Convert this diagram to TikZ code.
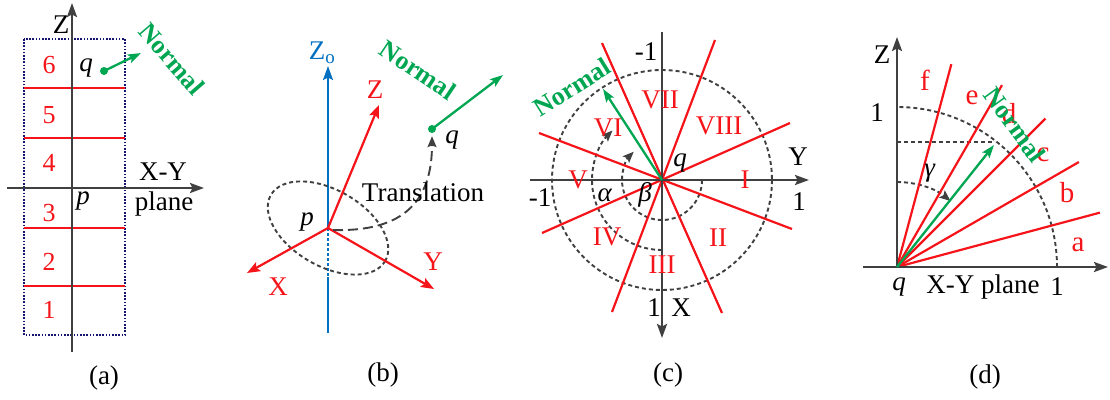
\documentclass[tikz,border=0pt]{standalone}
\usepackage{fontspec}
\setmainfont{Liberation Serif}
\usetikzlibrary{arrows.meta}
\definecolor{myred}{RGB}{245,20,25}
\definecolor{mygreen}{RGB}{0,166,81}
\definecolor{myblue}{RGB}{0,112,192}
\definecolor{axisgray}{RGB}{64,64,64}
\definecolor{boxnavy}{RGB}{20,20,110}
\begin{document}
\begin{tikzpicture}[x=1pt,y=-1pt,
  tip/.style={-{Stealth[length=14pt,width=10pt,inset=2.5pt]}},
  axis/.style={draw=axisgray, line width=2.4pt, tip},
  redseg/.style={draw=myred, line width=2.2pt},
  redarr/.style={draw=myred, line width=2.2pt, -{Stealth[length=13pt,width=10pt,inset=2.5pt]}},
  grnarr/.style={draw=mygreen, line width=2.3pt, -{Stealth[length=13pt,width=9pt,inset=2.5pt]}},
  bluearr/.style={draw=myblue, line width=2.2pt},
  dashc/.style={draw=axisgray, line width=1.9pt, dash pattern=on 4pt off 3pt},
  dasharr/.style={dashc, -{Stealth[length=11pt,width=9pt,inset=2pt]}},
  txt/.style={inner sep=0pt, font=\fontsize{27}{29}\selectfont},
  rtxt/.style={inner sep=0pt, text=myred, font=\fontsize{26}{28}\selectfont},
  ntxt/.style={inner sep=0pt, text=mygreen, font=\fontsize{26}{28}\selectfont\bfseries},
  dotg/.style={circle, fill=mygreen, inner sep=0pt, minimum size=8pt},
]
\useasboundingbox (0,0) rectangle (1110,399);

% ---------------- (a) ----------------
\coordinate (aZb) at (72,352); \coordinate (aZt) at (72,3);
\coordinate (aXl) at (7,188);  \coordinate (aXr) at (204,188);
\draw[boxnavy, line width=1.4pt, dash pattern=on 1.6pt off 1.6pt] (24,39) rectangle (125,335);
\foreach \y in {88,138,228,286} \draw[redseg] (24,\y) -- (125,\y);
\draw[axis] (aZb) -- (aZt);
\draw[axis] (aXl) -- (aXr);
\node[txt] (aZ) at (61,25) {Z};
\node[txt] (aXY) at (163,172) {X-Y};
\node[txt] (aplane) at (164,204) {plane};
\foreach \n/\y in {6/65,5/115,4/163,3/213,2/262,1/310} \node[rtxt] (an\n) at (49,\y) {\n};
\node[txt] (aq) at (86,68) {\textit{q}};
\node[txt] (ap) at (83,201) {\textit{p}};
\node[dotg] (aqd) at (104,71) {};
\coordinate (aN) at (141,53);
\draw[grnarr] (aqd.center) -- (aN);
\node[ntxt, rotate=-49] (aNormal) at (172,59) {Normal};
\node[txt] (acap) at (104,378) {(a)};

% ---------------- (b) ----------------
\coordinate (bp) at (328,228);
\coordinate (bZot) at (328,66); \coordinate (bZom) at (328,277); \coordinate (bZob) at (328,333);
\draw[bluearr, tip] (bp) -- (bZot);
\draw[bluearr] (bZom) -- (bZob);
\draw[bluearr, dash pattern=on 3pt off 2pt] (bp) -- (bZom);
\draw[dashc, rotate around={-30:(bp)}] (bp) ellipse[x radius=66, y radius=38];
\coordinate (bZe) at (379,105); \coordinate (bXe) at (247,273); \coordinate (bYe) at (434,289);
\draw[redarr] (bp) -- (bZe);
\draw[redarr] (bp) -- (bXe);
\draw[redarr] (bp) -- (bYe);
\node[rtxt, font=\fontsize{27}{29}\selectfont] (bZ) at (375,90) {Z};
\node[rtxt, font=\fontsize{27}{29}\selectfont] (bX) at (278,287) {X};
\node[rtxt, font=\fontsize{27}{29}\selectfont] (bY) at (433,262) {Y};
\node[txt, text=myblue] (bZo) at (322,53) {Z\textsubscript{o}};
\node[txt] (bplbl) at (307,222) {\textit{p}};
\node[dotg] (bq) at (432,129) {};
\node[txt] (bqlbl) at (452,140) {\textit{q}};
\draw[dasharr, dash pattern=on 10pt off 5pt, shorten >=3pt] (bp) ++(5,2) .. controls (405,232) and (432,200) .. (bq.south);
\node[txt] (btrans) at (423,192) {Translation};
\coordinate (bN) at (503,75);
\draw[grnarr] (bq.center) -- (bN);
\node[ntxt, rotate=-34] (bNormal) at (418,70) {Normal};
\node[txt] (bcap) at (383,375) {(b)};

% ---------------- (c) ----------------
\coordinate (qc) at (662,180);
\draw[dashc] (qc) circle[radius=110];
\draw[dasharr] (qc) ++(90:70) arc[start angle=90, end angle=225, radius=70];
\draw[dasharr] (qc) ++(0:40) arc[start angle=0, end angle=225, radius=40];
\draw[redseg] (602,43) -- (722,313);
\draw[redseg] (715,40) -- (612,312);
\draw[redseg] (790,123) -- (542,233);
\draw[redseg] (539,133) -- (792,229);
\coordinate (cXt) at (662,32); \coordinate (cXb) at (662,338);
\coordinate (cYl) at (530,180); \coordinate (cYr) at (809,180);
\draw[axis] (cXt) -- (cXb);
\draw[axis] (cYl) -- (cYr);
\coordinate (cN) at (603,89);
\draw[grnarr] (qc) -- (cN);
\node[ntxt, rotate=32] (cNormal) at (572,87) {Normal};
\foreach \t/\x/\y/\nm in {VII/660/100/c7, VIII/719/126/c8, VI/608/128/c6, V/578/180/c5, I/745/180/c1, IV/607/237/c4, II/718/238/c2, III/662/265/c3}
  \node[rtxt, font=\fontsize{27}{29}\selectfont] (\nm) at (\x,\y) {\t};
\node[txt] (cm1t) at (646,52) {-1};
\node[txt] (cm1l) at (540,198) {-1};
\node[txt] (c1r) at (799,202) {1};
\node[txt] (c1b) at (654,308) {1};
\node[txt] (cX) at (681,308) {X};
\node[txt] (cY) at (798,157) {Y};
\node[txt] (cq) at (680,163) {\textit{q}};
\node[txt] (calpha) at (605,195) {\textit{α}};
\node[txt] (cbeta) at (645,195) {\textit{β}};
\node[txt] (ccap) at (668,375) {(c)};

% ---------------- (d) ----------------
\coordinate (qd) at (897,267);
\coordinate (dZt) at (897,37); \coordinate (dXl) at (863,267); \coordinate (dXr) at (1108,267);
\draw[dashc] (qd) ++(0:160) arc[start angle=0, end angle=-90, radius=160];
\draw[dashc] (897,142) -- (995,142);
\draw[dasharr] (qd) ++(-90:85) arc[start angle=-90, end angle=-51, radius=85];
\foreach \a in {15,30,45,60,75} \draw[redseg] (qd) -- ++(-\a:210);
\draw[axis] (qd) -- (dZt);
\draw[axis] (dXl) -- (dXr);
\coordinate (dN) at (994,145);
\draw[grnarr] (qd) -- (dN);
\foreach \t/\x/\y in {f/925/80, e/972/98, d/1009/114, c/1043/155, b/1067/193, a/1078/245}
  \node[rtxt, font=\fontsize{29}{31}\selectfont] (d\t) at (\x,\y) {\t};
\node[ntxt, rotate=-54] (dNormal) at (1015,125) {Normal};
\node[txt] (dZ) at (882,55) {Z};
\node[txt] (d1l) at (877,113) {1};
\node[txt] (dq) at (899,287) {\textit{q}};
\node[txt] (dXY) at (983,287) {X-Y plane};
\node[txt] (d1r) at (1057,287) {1};
\node[txt] (dgamma) at (930,173) {\textit{γ}};
\node[txt] (dcap) at (985,377) {(d)};
\end{tikzpicture}
\end{document}
